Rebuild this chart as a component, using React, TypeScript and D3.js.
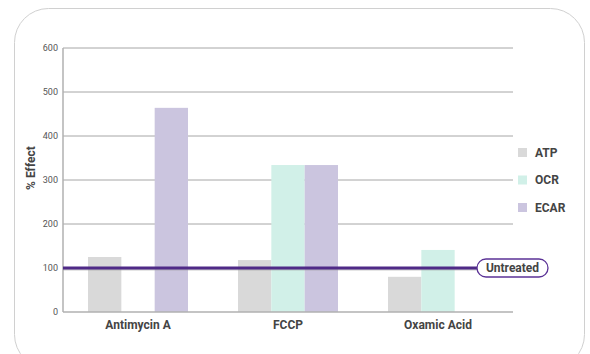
import React from "react";
import * as d3 from "d3";

const categories = ["Antimycin A", "FCCP", "Oxamic Acid"];
const seriesNames = ["ATP", "OCR", "ECAR"];
const atpValues = [125, 118, 80];
const ocrValues = [0, 334, 141];
const ecarValues = [464, 334, 0];
const yTicks = [0, 100, 200, 300, 400, 500, 600];
const untreatedValue = 100;
const untreatedLabel = "Untreated";

const colors: Record<string, string> = { ATP: "#d9d9d9", OCR: "#d1f0e8", ECAR: "#cbc5df" };

export default function App() {
  const W = 590, H = 354;
  const left = 63, right = 513, top = 48, bottom = 312;
  const x = d3.scaleBand<string>().domain(categories).range([left, right]).paddingInner(0).paddingOuter(0);
  const y = d3.scaleLinear().domain([0, 600]).range([bottom, top]);
  const inner = d3.scaleBand<string>().domain(seriesNames).range([0, x.bandwidth()]).paddingOuter(0.75);
  const values: Record<string, number[]> = { ATP: atpValues, OCR: ocrValues, ECAR: ecarValues };
  const font = "Roboto, 'Noto Sans', sans-serif";
  const yU = y(untreatedValue);
  return (
    <svg width={W} height={H} style={{ position: "absolute", left: 0, top: 0, fontFamily: font }}>
      <rect x={14.5} y={8.5} width={570} height={360} rx={34} fill="#fff" stroke="#d0d0d0" strokeWidth={1} />
      {yTicks.map((t) => (
        <g key={t}>
          {t > 0 && <line x1={left} x2={right} y1={y(t)} y2={y(t)} stroke="#a6a6a6" strokeWidth={1} />}
          <text x={58} y={y(t)} dy="0.35em" textAnchor="end" fontSize={9} fill="#555">{t}</text>
        </g>
      ))}
      {categories.map((c, i) => (
        <g key={c}>
          {seriesNames.map((s) => values[s][i] > 0 ? (
            <rect key={s} x={(x(c) as number) + (inner(s) as number)} y={y(values[s][i])}
              width={inner.bandwidth()} height={bottom - y(values[s][i])} fill={colors[s]} />
          ) : null)}
          <text x={(x(c) as number) + x.bandwidth() / 2} y={329} textAnchor="middle" fontSize={12} fontWeight="bold" fill="#444">{c}</text>
        </g>
      ))}
      <line x1={left} x2={left} y1={top} y2={bottom} stroke="#b0b0b0" strokeWidth={1.5} />
      <line x1={left} x2={right} y1={bottom} y2={bottom} stroke="#b0b0b0" strokeWidth={1.5} />
      <line x1={left} x2={478} y1={yU + 1} y2={yU + 1} stroke="#999" strokeWidth={3} opacity={0.5} />
      <line x1={left} x2={478} y1={yU} y2={yU} stroke="#4f2a87" strokeWidth={3} />
      <rect x={477} y={yU - 9} width={71} height={18} rx={9} fill="#fff" stroke="#5b3296" strokeWidth={1.3} />
      <text x={512.5} y={yU} dy="0.35em" textAnchor="middle" fontSize={12} fontWeight="bold" fill="#444">{untreatedLabel}</text>
      <text transform={`translate(35,${(top + bottom) / 2 - 12}) rotate(-90)`} textAnchor="middle" fontSize={12} fontWeight="bold" fill="#444">% Effect</text>
      {seriesNames.map((s, i) => (
        <g key={s} transform={`translate(518,${148 + i * 27.5})`}>
          <rect width={9} height={9} fill={colors[s]} />
          <text x={17} y={4.5} dy="0.35em" fontSize={12} fontWeight="bold" fill="#444">{s}</text>
        </g>
      ))}
    </svg>
  );
}
